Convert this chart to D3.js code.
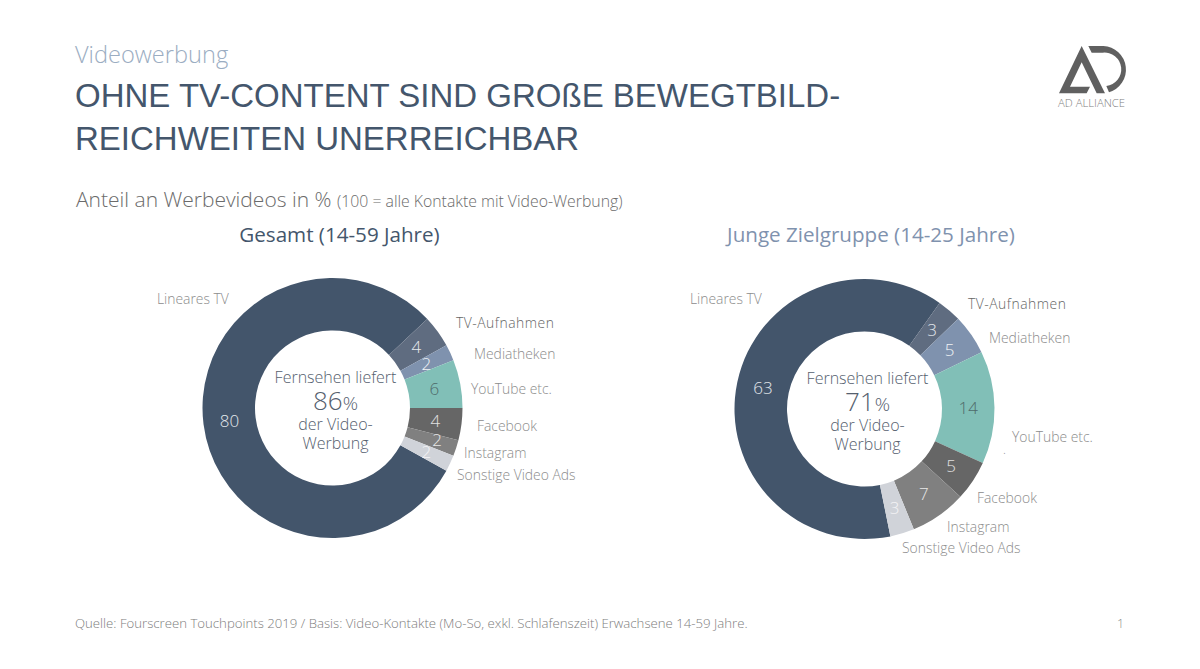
<!DOCTYPE html>
<html>
<head>
<meta charset="utf-8">
<script src="https://cdnjs.cloudflare.com/ajax/libs/d3/7.8.5/d3.min.js"></script>
<style>
  html, body { margin: 0; padding: 0; background: #fff; }
  svg { display: block; }
  text { font-family: "Open Sans", sans-serif; }
</style>
</head>
<body>
<div id="chart"></div>
<script>
const categories = ['Lineares TV', 'TV-Aufnahmen', 'Mediatheken', 'YouTube etc.', 'Facebook', 'Instagram', 'Sonstige Video Ads'];
const gesamtValues = [80, 4, 2, 6, 4, 2, 2];
const jungeValues = [63, 3, 5, 14, 5, 7, 3];
const sliceColors = ['#43556b', '#5f6c80', '#7f92ae', '#81bfb7', '#666666', '#808080', '#d0d3d9'];
const valueColors = ['#e4e8ec', '#e4e8ec', '#f0f2f5', '#4f6b6b', '#e0e0e0', '#e8e8e8', '#f4f4f6'];

const width = 1200, height = 669;
const outerR = 130, innerR = 77.5;

const svg = d3.select('#chart').append('svg')
    .attr('width', width)
    .attr('height', height);

function addText(x, y, str, size, color, opts) {
    opts = opts || {};
    return svg.append('text')
        .attr('x', x)
        .attr('y', y)
        .attr('font-size', size)
        .attr('font-weight', opts.weight || 300)
        .attr('fill', color)
        .attr('text-anchor', opts.anchor || 'start')
        .style('font-family', opts.family || null)
        .text(str);
}

// header
addText(75, 63, 'Videowerbung', 23.6, '#9badc2');
addText(75, 107, 'OHNE TV-CONTENT SIND GROßE BEWEGTBILD-', 33, '#44566c', {family: '"Liberation Sans"', weight: 400});
addText(75, 150, 'REICHWEITEN UNERREICHBAR', 33, '#44566c', {family: '"Liberation Sans"', weight: 400});

const sub = addText(76, 207, 'Anteil an Werbevideos in % ', 21, '#6b6b6b');
sub.append('tspan').attr('font-size', 15.8).text('(100 = alle Kontakte mit Video-Werbung)');

addText(339.5, 242, 'Gesamt (14-59 Jahre)', 20.6, '#44566c', {anchor: 'middle', weight: 400});
addText(871, 242, 'Junge Zielgruppe (14-25 Jahre)', 20.6, '#7f92ae', {anchor: 'middle', weight: 400});

function drawDonut(cx, cy, values, startDeg, share, labelPos, nudge) {
    const pie = d3.pie().sort(null)
        .startAngle(startDeg * Math.PI / 180)
        .endAngle((startDeg + 360) * Math.PI / 180);
    const arc = d3.arc().innerRadius(innerR).outerRadius(outerR);
    const g = svg.append('g').attr('transform', `translate(${cx},${cy})`);
    const arcs = pie(values);

    g.selectAll('path').data(arcs).enter().append('path')
        .attr('d', arc)
        .attr('fill', (d, i) => sliceColors[i]);

    g.selectAll('text.val').data(arcs).enter().append('text')
        .attr('class', 'val')
        .attr('transform', (d, i) => {
            const c = arc.centroid(d);
            return `translate(${c[0] + nudge[i]},${c[1]})`;
        })
        .attr('text-anchor', 'middle')
        .attr('dy', '0.36em')
        .attr('font-size', 17)
        .attr('font-weight', 300)
        .attr('fill', (d, i) => valueColors[i])
        .text(d => d.value);

    // outside labels
    categories.forEach((name, i) => {
        const t = addText(labelPos[i][0], labelPos[i][1] + 4.5, name, 13.9, i == 1 ? '#666666' : '#8c8c8c');
        if (i == 1) t.attr('letter-spacing', 0.5);
    });

    // centre text
    addText(cx + 3, cy - 25, 'Fernsehen liefert', 16, '#55606e', {anchor: 'middle'});
    const big = addText(cx + 3, cy + 2, share, 26, '#55606e', {anchor: 'middle'});
    big.append('tspan').attr('font-size', 19).text('%');
    addText(cx + 3, cy + 22, 'der Video-', 16, '#55606e', {anchor: 'middle'});
    addText(cx + 3, cy + 41, 'Werbung', 16, '#55606e', {anchor: 'middle'});
}

drawDonut(332.5, 408, gesamtValues, 118.8, '86', [
    [157, 299], [456, 323], [474, 354], [471, 389], [477, 426], [464, 453], [457, 475]
], [0, 0, 0, 0, 0, 6, 0]);
drawDonut(864.5, 409, jungeValues, 168.5, '71', [
    [690, 299], [968, 304], [989, 338], [1012, 437], [977, 498], [947, 527], [902, 548]
], [0, 0, 0, 0, 0, 0, 0]);
addText(1003, 454, '.', 12, '#8c8c8c');

// footer
addText(75, 628, 'Quelle: Fourscreen Touchpoints 2019 / Basis: Video-Kontakte (Mo-So, exkl. Schlafenszeit) Erwachsene 14-59 Jahre.', 13.2, '#7d7d7d');
addText(1117, 628, '1', 12.5, '#8c8c8c');

// logo
const logo = svg.append('g').attr('transform', 'translate(1040,30) scale(0.3333)');
logo.append('path')
    .attr('d', 'M125,48 L57,190 L140,190 L150,170 L90,170 L125,97 L170,190 L195,190 Z')
    .attr('fill', '#606060');
logo.append('path')
    .attr('d', 'M145,48 L190,48 A71,71 0 0 1 207,187 L199,168 A50,50 0 0 0 188,68 L155,68 Z')
    .attr('fill', '#606060');
addText(1058, 107, 'AD ALLIANCE', 11.3, '#808080');
</script>
</body>
</html>
